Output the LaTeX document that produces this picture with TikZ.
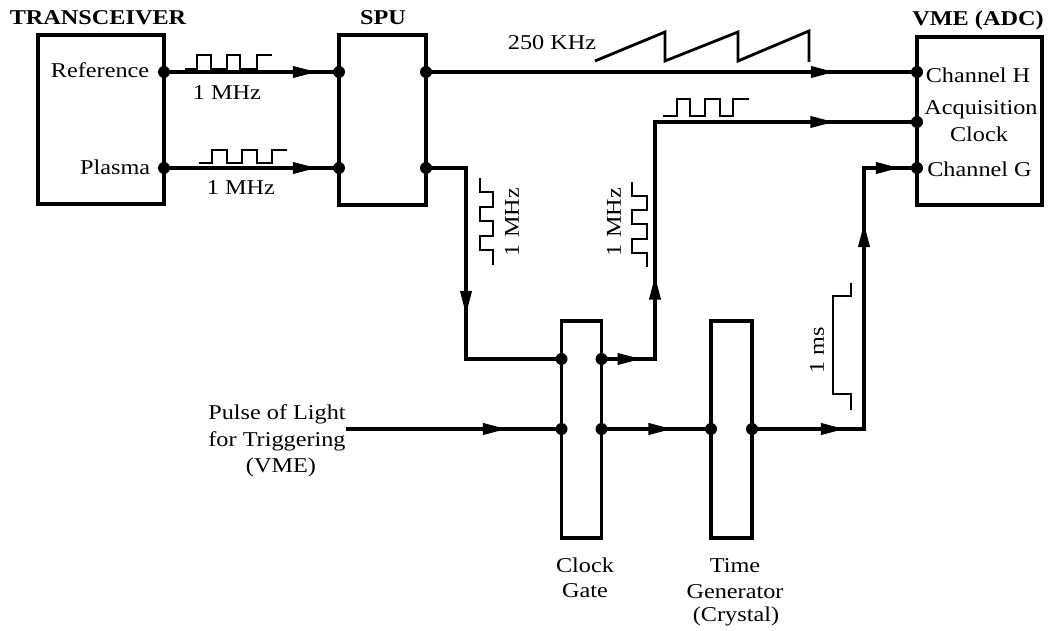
\documentclass[tikz,border=0pt]{standalone}
\usepackage{fontspec}
\setmainfont{Liberation Serif}
\usetikzlibrary{arrows.meta,decorations.markings}
\newcommand{\sx}[1]{\scalebox{1.15}[1]{#1}}
\begin{document}
\begin{tikzpicture}[x=0.02cm,y=-0.02cm,
  line width=2.1pt,
  box/.style={draw, line width=2.1pt, inner sep=0pt, outer sep=0pt},
  dot/.style={circle, fill, inner sep=0pt, minimum size=0.24cm},
  wave/.style={line width=1.6pt},
  lbl/.style={font=\fontsize{12}{15}\selectfont, inner sep=0pt},
  blbl/.style={font=\fontsize{12}{15}\selectfont\bfseries, inner sep=0pt},
  arrowat/.style={postaction={decorate, decoration={markings,
      mark=at position #1 with {\arrow{Triangle[length=0.48cm,width=0.22cm]}}}}},
]
\useasboundingbox (0,0) rectangle (1049,631);

% boxes
\node[box, minimum width=2.52cm, minimum height=3.38cm] (trans) at (101,119.5) {};
\node[box, minimum width=1.74cm, minimum height=3.40cm] (spu) at (382.5,120) {};
\node[box, minimum width=2.50cm, minimum height=3.36cm] (vme) at (979.5,121) {};
\node[box, minimum width=0.80cm, minimum height=4.34cm] (gate) at (581.5,429.5) {};
\node[box, minimum width=0.82cm, minimum height=4.34cm] (tgen) at (731.5,429.5) {};

% dots
\node[dot] (ref) at (164,72) {};
\node[dot] (pla) at (164,168) {};
\node[dot] (s1) at (339,72) {};
\node[dot] (s2) at (339,168) {};
\node[dot] (s3) at (426,72) {};
\node[dot] (s4) at (426,168) {};
\node[dot] (vH) at (917,72) {};
\node[dot] (vA) at (917,122) {};
\node[dot] (vG) at (917,168) {};
\node[dot] (g1) at (561.5,359) {};
\node[dot] (g2) at (601.5,359) {};
\node[dot] (g3) at (561.5,429) {};
\node[dot] (g4) at (601.5,429) {};
\node[dot] (t1) at (711,429) {};
\node[dot] (t2) at (752,429) {};

% bend and free-end coordinates
\coordinate (c1) at (466,359);
\coordinate (c2) at (655,240);
\coordinate (c3) at (864,300);
\coordinate (pin) at (346,429);

% connectors
\draw[arrowat=3.06cm] (ref.center) -- (s1.center);
\draw[arrowat=3.06cm] (pla.center) -- (s2.center);
\draw[arrowat=8.18cm] (s3.center) -- (vH.center);
\draw[arrowat=3.74cm] (s4.center) -| (c1) -- (g1.center);
\draw[arrowat=0.80cm, arrowat=2.74cm, arrowat=9.40cm] (g2.center) -| (c2) |- (vA.center);
\draw[arrowat=3.22cm] (pin) -- (g3.center);
\draw[arrowat=1.42cm] (g4.center) -- (t1.center);
\draw[arrowat=1.86cm, arrowat=6.36cm, arrowat=8.18cm] (t2.center) -| (c3) |- (vG.center);

% waveforms
\draw[wave] (185,69) -- (197,69) -- (197,55) -- (211,55) -- (211,69) -- (227,69) -- (227,55) -- (240,55) -- (240,69) -- (257,69) -- (257,55) -- (272,55);
\draw[wave] (199,163) -- (212,163) -- (212,150) -- (227,150) -- (227,163) -- (242,163) -- (242,150) -- (257,150) -- (257,163) -- (272,163) -- (272,150) -- (287,150);
\draw[wave] (663,116) -- (677,116) -- (677,99) -- (690,99) -- (690,116) -- (705,116) -- (705,99) -- (720,99) -- (720,116) -- (733,116) -- (733,99) -- (749,99);
\draw[wave] (480,178) -- (480,192) -- (493,192) -- (493,207) -- (480,207) -- (480,221) -- (493,221) -- (493,236) -- (480,236) -- (480,250) -- (493,250) -- (493,265);
\draw[wave] (647,267) -- (647,253) -- (632,253) -- (632,239) -- (647,239) -- (647,224) -- (632,224) -- (632,210) -- (647,210) -- (647,196) -- (632,196) -- (632,182);
\draw[wave] (595,61) -- (665,32) -- (665,61) -- (738,32) -- (738,61) -- (809,31) -- (809,62);
\draw[wave] (851,283) -- (851,296) -- (833,296) -- (833,394) -- (851,394) -- (851,410);

% labels
\node[blbl, anchor=base] (tTrans) at (98,25) {\sx{TRANSCEIVER}};
\node[blbl, anchor=base] (tSpu) at (383,25) {\sx{SPU}};
\node[blbl, anchor=base] (tVme) at (978,26) {\sx{VME (ADC)}};
\node[lbl, anchor=base east] (tRef) at (151,78) {\sx{Reference}};
\node[lbl, anchor=base east] (tPla) at (152,175) {\sx{Plasma}};
\node[lbl, anchor=base] (tF1) at (227,100) {\sx{1 MHz}};
\node[lbl, anchor=base] (tF2) at (241,195) {\sx{1 MHz}};
\node[lbl, anchor=base] (tSaw) at (552,50) {\sx{250 KHz}};
\node[lbl, anchor=base] (tChH) at (978,83) {\sx{Channel H}};
\node[lbl, anchor=base] (tAcq) at (981,115) {\sx{Acquisition}};
\node[lbl, anchor=base] (tClk) at (979,142) {\sx{Clock}};
\node[lbl, anchor=base] (tChG) at (979.5,177) {\sx{Channel G}};
\node[lbl, anchor=base] (tP1) at (277,420) {\sx{Pulse of Light}};
\node[lbl, anchor=base] (tP2) at (277,447) {\sx{for Triggering}};
\node[lbl, anchor=base] (tP3) at (281,473) {\sx{(VME)}};
\node[lbl, anchor=base] (tG1) at (585,573) {\sx{Clock}};
\node[lbl, anchor=base] (tG2) at (585,598) {\sx{Gate}};
\node[lbl, anchor=base] (tT1) at (735,573) {\sx{Time}};
\node[lbl, anchor=base] (tT2) at (735,599) {\sx{Generator}};
\node[lbl, anchor=base] (tT3) at (736,622) {\sx{(Crystal)}};
\node[lbl, rotate=90] (tF3) at (512,222) {\sx{1 MHz}};
\node[lbl, rotate=90] (tF4) at (614,222) {\sx{1 MHz}};
\node[lbl, rotate=90] (tMs) at (817,350) {\sx{1 ms}};
\end{tikzpicture}
\end{document}
